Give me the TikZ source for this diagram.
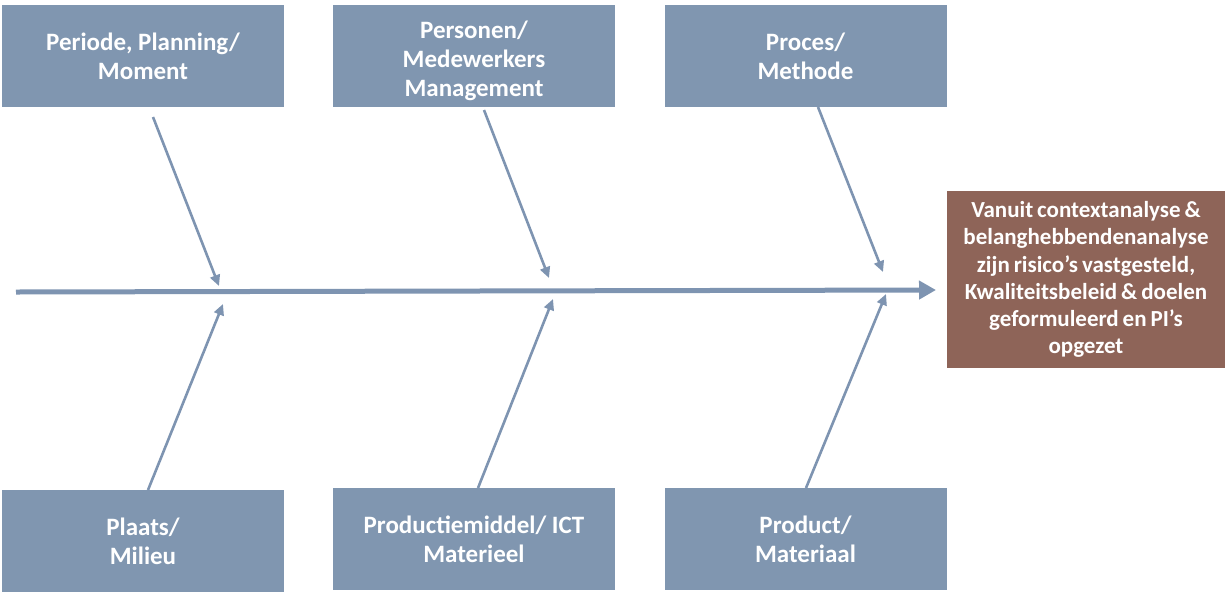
\documentclass[tikz,border=0pt]{standalone}
\usepackage{fontspec}
\setmainfont{Carlito}
\usetikzlibrary{arrows.meta}
\definecolor{boxblue}{RGB}{128,150,176}
\definecolor{arrblue}{RGB}{126,148,177}
\definecolor{boxbrown}{RGB}{142,100,88}
\newcommand\tightspaces{\spaceskip=0.17em plus 0.05em minus 0.05em\relax}
\tikzset{
  cat/.style={fill=boxblue, text=white, minimum width=282pt, minimum height=102pt, inner sep=0pt, align=center, font=\fontsize{25}{28.7}\selectfont\bfseries},
  cattext/.style={text=white, inner sep=0pt, align=center, font=\fontsize{25}{28.7}\selectfont\bfseries},
  effect/.style={fill=boxbrown, text=white, minimum width=278pt, minimum height=177pt, inner sep=0pt, align=center, font=\fontsize{23}{27.2}\selectfont\bfseries\tightspaces},
  bone/.style={draw=arrblue, line width=2.6pt, -{Triangle[length=11pt,width=10pt]}},
  spine/.style={draw=arrblue, line width=5pt, -{Triangle[length=17pt,width=18pt]}}
}
\begin{document}
\begin{tikzpicture}[x=1pt,y=-1pt]
\useasboundingbox (0,0) rectangle (1225,598);
\node[cat] (t1) at (143,56) {Periode, Planning/\\Moment};
\node[cat] (t2) at (474,56) {};
\node[cattext] (t2l) at (474,61) {Personen/\\Medewerkers\\Management};
\node[cat] (t3) at (805.5,56) {Proces/\\Methode};
\node[cat] (b1) at (143,541) {Plaats/\\Milieu};
\node[cat] (b2) at (474,539) {Productiemiddel/ ICT\\Materieel};
\node[cat] (b3) at (805.5,539) {Product/\\Materiaal};
\node[effect] (eff) at (1086,279.5) {Vanuit contextanalyse \&\\belanghebbendenanalyse\\zijn risico’s vastgesteld,\\Kwaliteitsbeleid \& doelen\\geformuleerd en PI’s\\opgezet};
\coordinate (s0) at (16,292);
\coordinate (s1) at (936,290);
\draw[spine] (s0) -- (s1);
\coordinate (a1) at (153,117);
\coordinate (a1e) at (219,286);
\coordinate (a2) at (484,110);
\coordinate (a2e) at (549,278);
\coordinate (a3) at (818,107);
\coordinate (a3e) at (883,272);
\coordinate (c1) at (148,490);
\coordinate (c1e) at (223,304);
\coordinate (c2) at (478,488);
\coordinate (c2e) at (553,299);
\coordinate (c3) at (806,488);
\coordinate (c3e) at (886,294);
\draw[bone] (a1) -- (a1e);
\draw[bone] (a2) -- (a2e);
\draw[bone] (a3) -- (a3e);
\draw[bone] (c1) -- (c1e);
\draw[bone] (c2) -- (c2e);
\draw[bone] (c3) -- (c3e);
\end{tikzpicture}
\end{document}
